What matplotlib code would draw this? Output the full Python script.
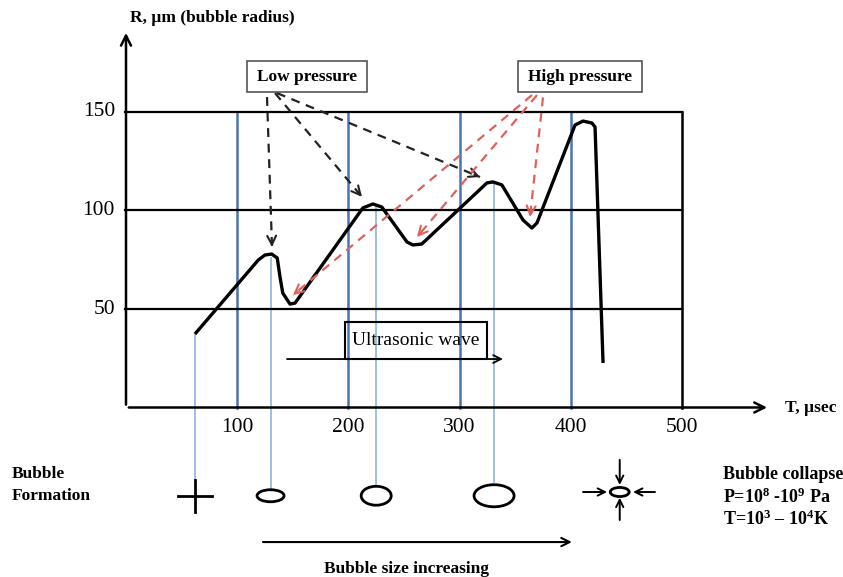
import matplotlib
matplotlib.use("Agg")
import matplotlib.pyplot as plt
from matplotlib.patches import Ellipse, Rectangle
import numpy as np

# ---- data ----
curve_t = [62, 119, 125, 131, 136, 138.5, 141, 147.5, 152, 213, 222, 230, 252.7, 258, 266,
           324.6, 330, 338, 357, 365, 369.6, 403.8, 411, 419, 421.8, 429]
curve_r = [37.3, 74.9, 77.4, 77.9, 75.9, 66.2, 58.1, 52.5, 53.0, 101.3, 103.3, 101.8, 84.0, 82.5, 83.0,
           114.0, 114.5, 113.0, 95.2, 91.1, 93.7, 143.4, 145.4, 144.4, 142.4, 22.6]
x_ticks = [100, 200, 300, 400, 500]
y_ticks = [50, 100, 150]
bubble_t = [62, 130, 225, 331]          # instants whose bubbles are drawn below
bubble_r = [37, 76, 103, 114]           # radius on the curve at those instants
bubble_w = [24.3, 27, 36]               # drawn bubble sizes (width, data units)
bubble_h = [6.1, 9.6, 11.2]

SX, SY = 1.112, 1.97   # px per data unit
X0, Y0 = 126, 407.5    # pixel of data origin

plt.rcParams['font.family'] = ['Liberation Serif', 'DejaVu Serif']
plt.rcParams['mathtext.fontset'] = 'custom'
plt.rcParams['mathtext.rm'] = 'Liberation Serif:bold'
plt.rcParams['mathtext.it'] = 'Liberation Serif:bold'
plt.rcParams['mathtext.bf'] = 'Liberation Serif:bold'

fig = plt.figure(figsize=(8.43, 5.77), dpi=100)
ax = fig.add_axes([0, 0, 1, 1])
ax.set_xlim(-X0 / SX, (843 - X0) / SX)
ax.set_ylim((Y0 - 577) / SY, Y0 / SY)
ax.axis('off')

dark_blue = '#4a74b0'
light_blue = '#8db3e2'
red = '#e0605a'

# grid verticals
for t in x_ticks[:-1]:
    ax.plot([t, t], [0, 150], color=dark_blue, lw=1.8, zorder=2)
# horizontals
for r in y_ticks:
    ax.plot([-1, 500], [r, r], color='black', lw=1.6, zorder=2)
ax.plot([500, 500], [0, 150], color='black', lw=1.8, zorder=2)

# axes with arrows
ax.annotate('', xy=(0, 191.6), xytext=(0, 0),
            arrowprops=dict(arrowstyle='->', lw=1.8, color='black', mutation_scale=18), zorder=3)
ax.annotate('', xy=(579, 0), xytext=(0, 0),
            arrowprops=dict(arrowstyle='->', lw=1.8, color='black', mutation_scale=18), zorder=3)

# tick labels
for t in x_ticks:
    ax.text(t, -10, str(t), ha='center', va='center', fontsize=15.5)
for r in y_ticks:
    ax.text(-9.9, r, str(r), ha='right', va='center', fontsize=15.5)

ax.text(3.6, 197.7, 'R, µm (bubble radius)', ha='left', va='center', fontsize=12.5, fontweight='bold')
ax.text(592.6, 0, 'T, µsec', ha='left', va='center', fontsize=12.5, fontweight='bold')

# thin light-blue drop lines
bottoms = [-37, -41.4, -40, -38]
for t, r, b in zip(bubble_t, bubble_r, bottoms):
    ax.plot([t, t], [r, b], color=light_blue, lw=1.2, zorder=1)

# the curve
ax.plot(curve_t, curve_r, color='black', lw=2.4, solid_joinstyle='round',
        solid_capstyle='butt', zorder=4)

# pressure boxes
for (x0, x1, label) in [(108.8, 216.7, 'Low pressure'), (352.5, 464, 'High pressure')]:
    ax.add_patch(Rectangle((x0, 160.1), x1 - x0, 15.8, fill=True, facecolor='white',
                           edgecolor='#555555', lw=1.2, zorder=5))
    ax.text((x0 + x1) / 2, 168, label, ha='center', va='center', fontsize=12.5,
            fontweight='bold', zorder=6)

def dashed_arrow(start, end, color):
    ax.plot([start[0], end[0]], [start[1], end[1]], color=color, lw=1.6,
            linestyle=(0, (4, 3)), zorder=5)
    d = np.array(end) - np.array(start)
    d = d / np.hypot(d[0] * SX, d[1] * SY)
    tail = np.array(end) - d * 6
    ax.annotate('', xy=end, xytext=tuple(tail),
                arrowprops=dict(arrowstyle='->', lw=1.5, color=color, mutation_scale=16,
                                shrinkA=0, shrinkB=0), zorder=5)

dashed_arrow((126.8, 157.6), (131.3, 81.5), '#222222')
dashed_arrow((134.0, 159.6), (212.2, 106.9), '#222222')
dashed_arrow((135.8, 159.6), (318.3, 117.0), '#222222')
dashed_arrow((365.1, 158.6), (150.2, 57.1), red)
dashed_arrow((369.6, 158.6), (261.7, 86.5), red)
dashed_arrow((375.0, 157.4), (363.3, 96.7), red)

# ultrasonic wave box + arrow
ax.add_patch(Rectangle((197, 24.6), 127.6, 18.9, fill=False, edgecolor='black', lw=1.5, zorder=5))
ax.text(260.8, 34, 'Ultrasonic wave', ha='center', va='center', fontsize=14, zorder=6)
ax.annotate('', xy=(339, 24.6), xytext=(144.8, 24.6),
            arrowprops=dict(arrowstyle='->', lw=1.3, color='black', mutation_scale=14,
                            shrinkA=0, shrinkB=0), zorder=5)

# bubble formation plus
ax.plot([62 - 15, 62 + 15], [-45, -45], color='black', lw=2.0)
ax.plot([62, 62], [-45 - 8.1, -45 + 8.1], color='black', lw=2.0)

# growing bubbles
for t, w, h in zip(bubble_t[1:], bubble_w, bubble_h):
    ax.add_patch(Ellipse((t, -44.8), w, h, fill=False, edgecolor='black', lw=2.0))

# collapse symbol
cx, cy = 444, -42.9
ax.add_patch(Ellipse((cx, cy), 17, 4.6, fill=False, edgecolor='black', lw=2.0))
arr = dict(arrowstyle='->', lw=1.4, color='black', mutation_scale=13, shrinkA=0, shrinkB=0)
ax.annotate('', xy=(432.6, cy), xytext=(411, cy), arrowprops=arr)
ax.annotate('', xy=(456, cy), xytext=(475.7, cy), arrowprops=arr)
ax.annotate('', xy=(cx, -39.3), xytext=(cx, -26.6), arrowprops=arr)
ax.annotate('', xy=(cx, -45.8), xytext=(cx, -57.1), arrowprops=arr)

# bottom texts
ax.text(-102.5, -33.8, 'Bubble', ha='left', va='center', fontsize=12.5, fontweight='bold')
ax.text(-102.5, -45.0, 'Formation', ha='left', va='center', fontsize=12.5, fontweight='bold')
ax.text(536.9, -33.8, 'Bubble collapse', ha='left', va='center', fontsize=13, fontweight='bold')
ax.text(536.9, -45.4, r'P=10$^{8}$ -10$^{9}$ Pa', ha='left', va='center', fontsize=13, fontweight='bold')
ax.text(536.9, -56.6, r'T=10$^{3}$ – 10$^{4}$K', ha='left', va='center', fontsize=13, fontweight='bold')

ax.annotate('', xy=(401, -68.3), xytext=(123.2, -68.3),
            arrowprops=dict(arrowstyle='->', lw=1.5, color='black', mutation_scale=15,
                            shrinkA=0, shrinkB=0))
ax.text(251.8, -82, 'Bubble size increasing', ha='center', va='center', fontsize=12.5,
        fontweight='bold')

fig.savefig('out.png', dpi=100)
